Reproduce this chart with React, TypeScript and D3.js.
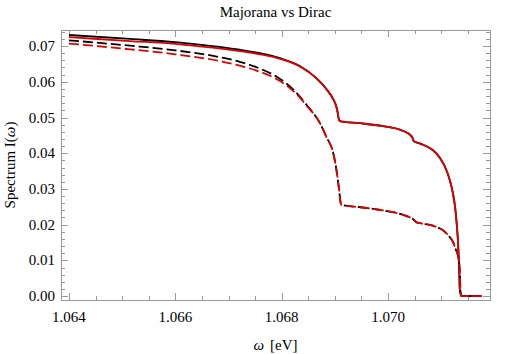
import * as d3 from 'd3';

// photon energies (eV) and spectra
const omegaSolid = [
  1.064, 1.06515, 1.066, 1.06641, 1.06721, 1.06759, 1.06797, 1.06834, 1.06866, 1.06884, 1.06897, 1.06902,
  1.06905, 1.06907, 1.06909, 1.06947, 1.0699, 1.07009, 1.07022, 1.07035, 1.07041, 1.07046, 1.07048,
  1.0706, 1.07073, 1.07084, 1.07097, 1.07112, 1.07116, 1.07122, 1.07126, 1.07129, 1.07132, 1.07134,
  1.07135, 1.07138, 1.07176,
];
const diracSolid = [
  0.0731, 0.072, 0.0711, 0.0705, 0.069, 0.068, 0.0666, 0.0644, 0.0609, 0.058, 0.0551, 0.0534, 0.0516,
  0.0498, 0.049, 0.0484, 0.0476, 0.0471, 0.0466, 0.0458, 0.0452, 0.0443, 0.0434, 0.0427, 0.0419, 0.0409,
  0.0388, 0.0344, 0.0325, 0.0288, 0.025, 0.0205, 0.0138, 0.006, 0.0017, 0, 0,
];
const majoranaSolid = [
  0.0725, 0.0714, 0.0706, 0.07, 0.0686, 0.0677, 0.0664, 0.0643, 0.0609, 0.058, 0.0551, 0.0534, 0.0516,
  0.0498, 0.049, 0.0484, 0.0476, 0.0471, 0.0466, 0.0458, 0.0452, 0.0443, 0.0434, 0.0427, 0.0419, 0.0409,
  0.0388, 0.0344, 0.0325, 0.0288, 0.025, 0.0205, 0.0138, 0.006, 0.0017, 0, 0,
];

const omegaDashed = [
  1.064, 1.06515, 1.066, 1.0669, 1.06721, 1.06759, 1.06797, 1.06822, 1.06847, 1.06872, 1.06884, 1.06897,
  1.06903, 1.06908, 1.06911, 1.06913, 1.06947, 1.0699, 1.07009, 1.07035, 1.07048, 1.07053, 1.0706,
  1.07084, 1.07107, 1.07116, 1.07122, 1.07127, 1.07132, 1.07135, 1.07136, 1.07138, 1.07176,
];
const diracDashed = [
  0.0716, 0.0701, 0.0688, 0.0667, 0.0656, 0.0637, 0.0608, 0.0578, 0.0535, 0.0484, 0.0446, 0.04, 0.0353,
  0.0297, 0.026, 0.0255, 0.0249, 0.024, 0.0235, 0.0224, 0.0214, 0.0207, 0.0204, 0.0197, 0.018, 0.0165,
  0.0152, 0.0132, 0.011, 0.0068, 0.0017, 0, 0,
];
const majoranaDashed = [
  0.0707, 0.0691, 0.0677, 0.0656, 0.0645, 0.0628, 0.0602, 0.0574, 0.0533, 0.0484, 0.0446, 0.04, 0.0353,
  0.0297, 0.026, 0.0255, 0.0249, 0.024, 0.0235, 0.0224, 0.0214, 0.0207, 0.0204, 0.0197, 0.018, 0.0165,
  0.0152, 0.0132, 0.011, 0.0068, 0.0017, 0, 0,
];

const xTicks = [1.064, 1.066, 1.068, 1.07];
const yTicks = [0, 0.01, 0.02, 0.03, 0.04, 0.05, 0.06, 0.07];

const W = 518;
const H = 354;
const left = 61;
const right = 490;
const top = 30;
const bottom = 300;
const font = '"Liberation Serif", "Times New Roman", Times, serif';
const frameColor = '#999';

export default function App() {
  const x = d3.scaleLinear().domain([1.06385, 1.071917]).range([left, right]);
  const y = d3.scaleLinear().domain([-0.0011, 0.0745]).range([bottom, top]);

  const line = (xs: number[], ys: number[]) =>
    d3
      .line<number>()
      .x((_, i) => x(xs[i]))
      .y((d) => y(d))
      .curve(d3.curveMonotoneX)(ys) ?? '';

  const xMinor = d3.range(1.0635, 1.0721, 0.0005).filter((v) => x(v) > left + 1 && x(v) < right - 1);
  const yMinor = d3.range(-0.002, 0.076, 0.002).filter((v) => y(v) < bottom - 1 && y(v) > top + 1);
  const isMajorX = (v: number) => xTicks.some((t) => Math.abs(t - v) < 1e-7);
  const isMajorY = (v: number) => yTicks.some((t) => Math.abs(t - v) < 1e-7);

  const series = [
    { d: line(omegaSolid, diracSolid), color: '#000', dash: undefined },
    { d: line(omegaSolid, majoranaSolid), color: '#e00000', dash: undefined },
    { d: line(omegaDashed, diracDashed), color: '#000', dash: '10,4' },
    { d: line(omegaDashed, majoranaDashed), color: '#e00000', dash: '10,4' },
  ];

  return (
    <svg width={W} height={H} style={{ position: 'absolute', left: 0, top: 0, fontFamily: font }}>
      <rect x={0} y={0} width={W} height={H} fill="#fff" />
      <text x={(left + right) / 2} y={17} textAnchor="middle" fontSize={15}>
        Majorana vs Dirac
      </text>

      {/* ticks on all four sides, pointing inward */}
      <g stroke={frameColor} strokeWidth={1}>
        {xMinor.map((v) => {
          const len = isMajorX(v) ? 7 : 4;
          const px = Math.round(x(v)) + 0.5;
          return (
            <g key={`x${v}`}>
              <line x1={px} x2={px} y1={bottom} y2={bottom - len} />
              <line x1={px} x2={px} y1={top} y2={top + len} />
            </g>
          );
        })}
        {yMinor.map((v) => {
          const len = isMajorY(v) ? 7 : 4;
          const py = Math.round(y(v)) + 0.5;
          return (
            <g key={`y${v}`}>
              <line x1={left} x2={left + len} y1={py} y2={py} />
              <line x1={right} x2={right - len} y1={py} y2={py} />
            </g>
          );
        })}
      </g>

      <g fill="none" strokeWidth={1.8} strokeLinejoin="round">
        {series.map((s, i) => (
          <path key={i} d={s.d} stroke={s.color} strokeDasharray={s.dash} />
        ))}
      </g>

      <rect x={left + 0.5} y={top + 0.5} width={right - left} height={bottom - top} fill="none" stroke={frameColor} />

      <g fontSize={15} fill="#000">
        {xTicks.map((t) => (
          <text key={t} x={x(t)} y={bottom + 22} textAnchor="middle">
            {d3.format('.3f')(t)}
          </text>
        ))}
        {yTicks.map((t) => (
          <text key={t} x={left - 6} y={y(t) + 5} textAnchor="end">
            {d3.format('.2f')(t)}
          </text>
        ))}
      </g>

      <text x={(left + right) / 2} y={350} textAnchor="middle" fontSize={15}>
        <tspan fontStyle="italic">ω</tspan>
        <tspan dx={6}>[eV]</tspan>
      </text>
      <text transform={`translate(15,${(top + bottom) / 2}) rotate(-90)`} textAnchor="middle" fontSize={15}>
        Spectrum I(<tspan fontStyle="italic">ω</tspan>)
      </text>
    </svg>
  );
}
